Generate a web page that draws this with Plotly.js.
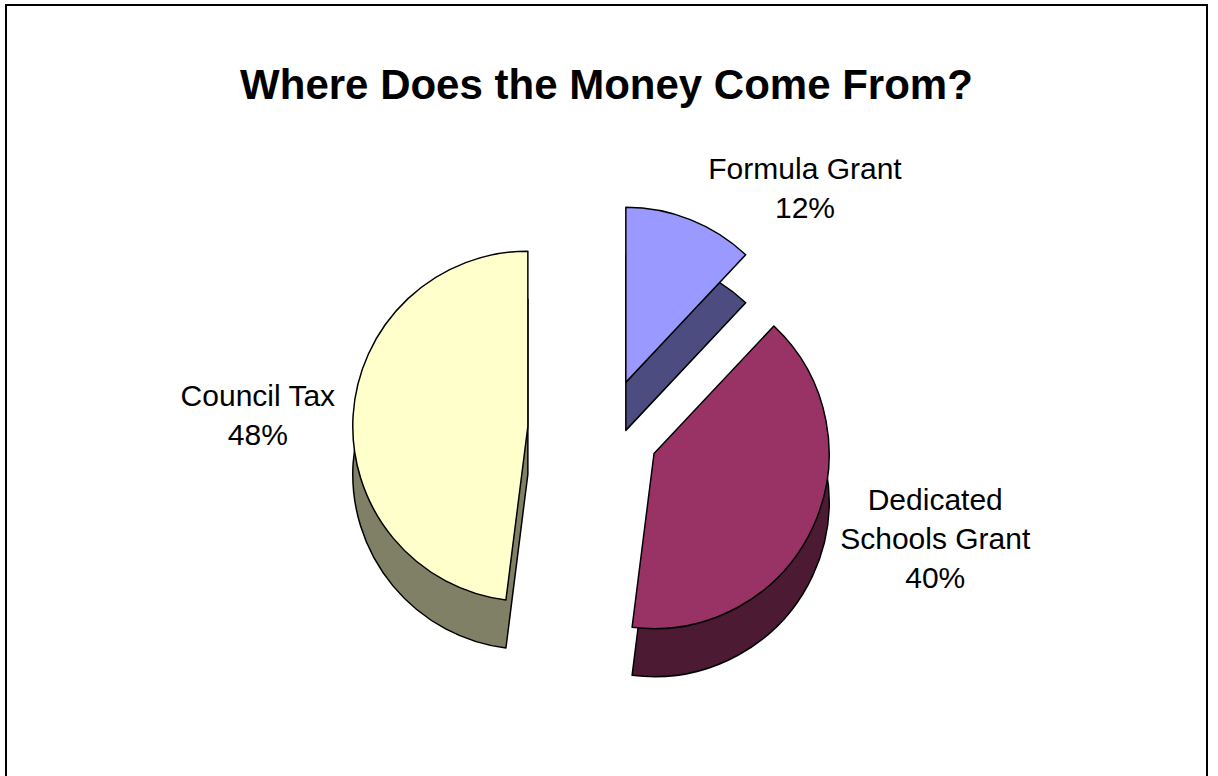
<!DOCTYPE html>
<html>
<head>
<meta charset="utf-8">
<script src="https://cdn.plot.ly/plotly-3.0.1.min.js"></script>
<style>
  html, body { margin: 0; padding: 0; background: #ffffff; }
  #frame { position: absolute; left: 5px; top: 4px; width: 1203px; height: 790px; border: 2px solid #000; box-sizing: border-box; overflow: hidden; }
  #chart { width: 1199px; height: 786px; }
</style>
</head>
<body>
<div id="frame"><div id="chart"></div></div>
<script>
// Data
var categories = ["Formula Grant", "Dedicated Schools Grant", "Council Tax"];
var displayLabels = ["Formula Grant", "Dedicated<br>Schools Grant", "Council Tax"];
var shares = [12, 40, 48];
var sliceColors = ["#9999FF", "#993366", "#FFFFCC"];
var sideColors = ["#4C4C80", "#4D1A33", "#808066"];
var pulls = [0.3, 0.3, 0.45];

var H = 786;
var depthPx = 48;
var dom = { x: [0.08, 0.92], y: [0.136, 0.782] };
var shift = depthPx / H;

// side (depth) layer, drawn first so it sits behind
var sideTrace = {
  type: "pie",
  labels: categories,
  values: shares,
  sort: false,
  direction: "clockwise",
  rotation: 0,
  pull: pulls,
  marker: { colors: sideColors, line: { color: "#000000", width: 1.5 } },
  textinfo: "none",
  hoverinfo: "skip",
  showlegend: false,
  domain: { x: dom.x, y: [dom.y[0] - shift, dom.y[1] - shift] }
};

var topTrace = {
  type: "pie",
  labels: categories,
  values: shares,
  text: displayLabels,
  sort: false,
  direction: "clockwise",
  rotation: 0,
  pull: pulls,
  marker: { colors: sliceColors, line: { color: "#000000", width: 1.5 } },
  texttemplate: "%{text}<br>%{percent:.0%}",
  textposition: "outside",
  textfont: { family: "Liberation Sans, Arial, sans-serif", size: 30, color: "#000000" },
  hoverinfo: "label+percent",
  showlegend: false,
  domain: dom
};

var layout = {
  width: 1199,
  height: H,
  margin: { l: 0, r: 0, t: 0, b: 0 },
  paper_bgcolor: "#ffffff",
  title: {
    text: "<b>Where Does the Money Come From?</b>",
    font: { family: "Liberation Sans, Arial, sans-serif", size: 42, color: "#000000" },
    x: 0.5, xanchor: "center", y: 0.9, yanchor: "middle"
  },
  showlegend: false
};

Plotly.newPlot("chart", [sideTrace, topTrace], layout, { displayModeBar: false, staticPlot: true });
</script>
</body>
</html>
